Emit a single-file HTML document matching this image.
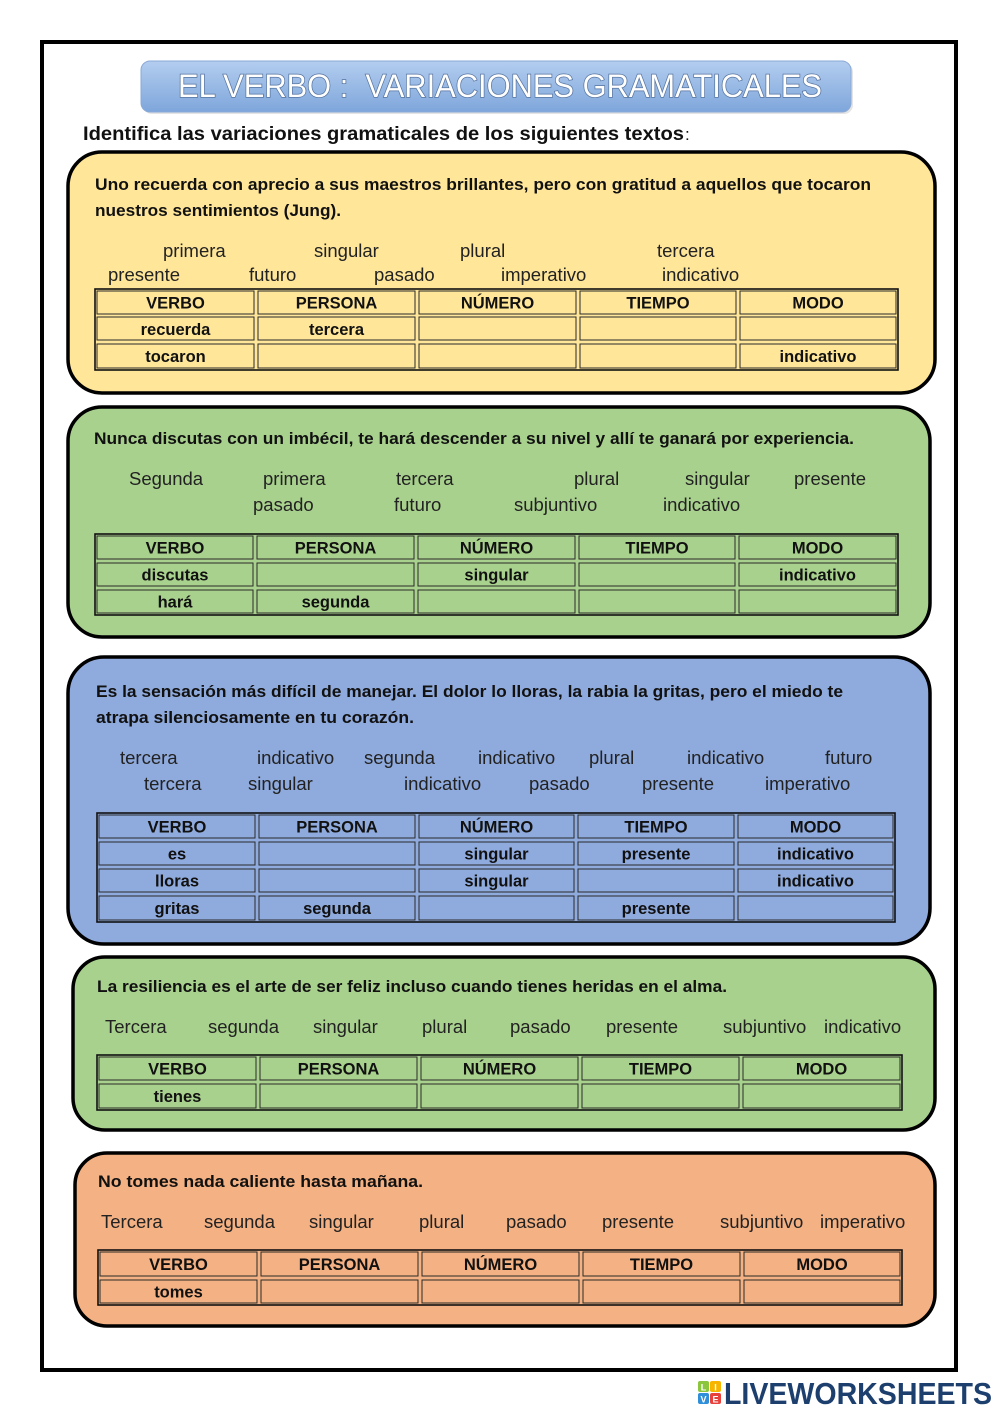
<!DOCTYPE html>
<html>
<head>
<meta charset="utf-8">
<style>
html,body{margin:0;padding:0;background:#fff;}
svg{display:block;}
text{font-family:"Liberation Sans",sans-serif;}
.s{font-weight:bold;font-size:16.5px;fill:#111;}
.w{font-size:18.5px;fill:#222;}
.c{font-weight:bold;font-size:16.5px;fill:#111;text-anchor:middle;}
.cell{fill:none;stroke:#2a2a2a;stroke-width:1;}
.tbl{fill:none;stroke:#111;stroke-width:1.6;}
.box{stroke:#000;stroke-width:3.5;}
</style>
</head>
<body>
<svg width="1000" height="1413" viewBox="0 0 1000 1413" xmlns="http://www.w3.org/2000/svg">
<defs>
<linearGradient id="tg" x1="0" y1="0" x2="0" y2="1">
<stop offset="0" stop-color="#b3cdef"/>
<stop offset="1" stop-color="#7ea6db"/>
</linearGradient>
</defs>
<rect x="0" y="0" width="1000" height="1413" fill="#fff"/>
<!-- page frame -->
<rect x="42" y="42" width="914" height="1328" fill="none" stroke="#000" stroke-width="4"/>

<!-- title banner -->
<rect x="143" y="63" width="710" height="51" rx="9" fill="#c9c9c9" opacity="0.5"/>
<rect x="141" y="61" width="710" height="51" rx="9" fill="url(#tg)" stroke="#8aa9d6" stroke-width="1"/>
<text x="178" y="97" font-size="32" textLength="644" lengthAdjust="spacingAndGlyphs" fill="#fff" stroke="#55739f" stroke-width="1.5" paint-order="stroke">EL VERBO :&#160; VARIACIONES GRAMATICALES</text>

<text x="83" y="140" font-size="19" font-weight="bold" fill="#111" textLength="601" lengthAdjust="spacingAndGlyphs">Identifica las variaciones gramaticales de los siguientes textos</text>
<text x="685" y="140" font-size="17" fill="#111">:</text>

<!-- BOX 1 -->
<rect class="box" x="68" y="152" width="867" height="241" rx="34" fill="#ffe699"/>
<text class="s" x="95" y="190" textLength="776" lengthAdjust="spacingAndGlyphs">Uno recuerda con aprecio a sus maestros brillantes, pero con gratitud a aquellos que tocaron</text>
<text class="s" x="95" y="216" textLength="246" lengthAdjust="spacingAndGlyphs">nuestros sentimientos (Jung).</text>
<text class="w" x="163" y="257">primera</text>
<text class="w" x="314" y="257">singular</text>
<text class="w" x="460" y="257">plural</text>
<text class="w" x="657" y="257">tercera</text>
<text class="w" x="108" y="281">presente</text>
<text class="w" x="249" y="281">futuro</text>
<text class="w" x="374" y="281">pasado</text>
<text class="w" x="501" y="281">imperativo</text>
<text class="w" x="662" y="281">indicativo</text>
<g>
<rect class="tbl" x="95" y="289" width="803" height="81"/>
<rect class="cell" x="97" y="291" width="157" height="23"/><rect class="cell" x="258" y="291" width="157" height="23"/><rect class="cell" x="419" y="291" width="157" height="23"/><rect class="cell" x="580" y="291" width="156" height="23"/><rect class="cell" x="740" y="291" width="156" height="23"/>
<rect class="cell" x="97" y="317" width="157" height="23"/><rect class="cell" x="258" y="317" width="157" height="23"/><rect class="cell" x="419" y="317" width="157" height="23"/><rect class="cell" x="580" y="317" width="156" height="23"/><rect class="cell" x="740" y="317" width="156" height="23"/>
<rect class="cell" x="97" y="344" width="157" height="24"/><rect class="cell" x="258" y="344" width="157" height="24"/><rect class="cell" x="419" y="344" width="157" height="24"/><rect class="cell" x="580" y="344" width="156" height="24"/><rect class="cell" x="740" y="344" width="156" height="24"/>
</g>
<text class="c" x="175.5" y="308.5">VERBO</text><text class="c" x="336.5" y="308.5">PERSONA</text><text class="c" x="497.5" y="308.5">NÚMERO</text><text class="c" x="658" y="308.5">TIEMPO</text><text class="c" x="818" y="308.5">MODO</text>
<text class="c" x="175.5" y="335">recuerda</text><text class="c" x="336.5" y="335">tercera</text>
<text class="c" x="175.5" y="362">tocaron</text><text class="c" x="818" y="362">indicativo</text>

<!-- BOX 2 -->
<rect class="box" x="68" y="407" width="862" height="230" rx="34" fill="#a9d18e"/>
<text class="s" x="94" y="444" textLength="760" lengthAdjust="spacingAndGlyphs">Nunca discutas con un imbécil, te hará descender a su nivel y allí te ganará por experiencia.</text>
<text class="w" x="129" y="485">Segunda</text>
<text class="w" x="263" y="485">primera</text>
<text class="w" x="396" y="485">tercera</text>
<text class="w" x="574" y="485">plural</text>
<text class="w" x="685" y="485">singular</text>
<text class="w" x="794" y="485">presente</text>
<text class="w" x="253" y="511">pasado</text>
<text class="w" x="394" y="511">futuro</text>
<text class="w" x="514" y="511">subjuntivo</text>
<text class="w" x="663" y="511">indicativo</text>
<g>
<rect class="tbl" x="95" y="534" width="803" height="81"/>
<rect class="cell" x="97" y="536" width="156" height="23"/><rect class="cell" x="257" y="536" width="157" height="23"/><rect class="cell" x="418" y="536" width="157" height="23"/><rect class="cell" x="579" y="536" width="156" height="23"/><rect class="cell" x="739" y="536" width="157" height="23"/>
<rect class="cell" x="97" y="563" width="156" height="23"/><rect class="cell" x="257" y="563" width="157" height="23"/><rect class="cell" x="418" y="563" width="157" height="23"/><rect class="cell" x="579" y="563" width="156" height="23"/><rect class="cell" x="739" y="563" width="157" height="23"/>
<rect class="cell" x="97" y="590" width="156" height="23"/><rect class="cell" x="257" y="590" width="157" height="23"/><rect class="cell" x="418" y="590" width="157" height="23"/><rect class="cell" x="579" y="590" width="156" height="23"/><rect class="cell" x="739" y="590" width="157" height="23"/>
</g>
<text class="c" x="175" y="553.5">VERBO</text><text class="c" x="335.5" y="553.5">PERSONA</text><text class="c" x="496.5" y="553.5">NÚMERO</text><text class="c" x="657" y="553.5">TIEMPO</text><text class="c" x="817.5" y="553.5">MODO</text>
<text class="c" x="175" y="580.5">discutas</text><text class="c" x="496.5" y="580.5">singular</text><text class="c" x="817.5" y="580.5">indicativo</text>
<text class="c" x="175" y="607.5">hará</text><text class="c" x="335.5" y="607.5">segunda</text>

<!-- BOX 3 -->
<rect class="box" x="68" y="657" width="862" height="287" rx="36" fill="#8faadc"/>
<text class="s" x="96" y="697" textLength="747" lengthAdjust="spacingAndGlyphs">Es la sensación más difícil de manejar. El dolor lo lloras, la rabia la gritas, pero el miedo te</text>
<text class="s" x="96" y="723" textLength="318" lengthAdjust="spacingAndGlyphs">atrapa silenciosamente en tu corazón.</text>
<text class="w" x="120" y="764">tercera</text>
<text class="w" x="257" y="764">indicativo</text>
<text class="w" x="364" y="764">segunda</text>
<text class="w" x="478" y="764">indicativo</text>
<text class="w" x="589" y="764">plural</text>
<text class="w" x="687" y="764">indicativo</text>
<text class="w" x="825" y="764">futuro</text>
<text class="w" x="144" y="790">tercera</text>
<text class="w" x="248" y="790">singular</text>
<text class="w" x="404" y="790">indicativo</text>
<text class="w" x="529" y="790">pasado</text>
<text class="w" x="642" y="790">presente</text>
<text class="w" x="765" y="790">imperativo</text>
<g>
<rect class="tbl" x="97" y="813" width="798" height="109"/>
<rect class="cell" x="99" y="815" width="156" height="23"/><rect class="cell" x="259" y="815" width="156" height="23"/><rect class="cell" x="419" y="815" width="155" height="23"/><rect class="cell" x="578" y="815" width="156" height="23"/><rect class="cell" x="738" y="815" width="155" height="23"/>
<rect class="cell" x="99" y="842" width="156" height="23"/><rect class="cell" x="259" y="842" width="156" height="23"/><rect class="cell" x="419" y="842" width="155" height="23"/><rect class="cell" x="578" y="842" width="156" height="23"/><rect class="cell" x="738" y="842" width="155" height="23"/>
<rect class="cell" x="99" y="869" width="156" height="23"/><rect class="cell" x="259" y="869" width="156" height="23"/><rect class="cell" x="419" y="869" width="155" height="23"/><rect class="cell" x="578" y="869" width="156" height="23"/><rect class="cell" x="738" y="869" width="155" height="23"/>
<rect class="cell" x="99" y="896" width="156" height="24"/><rect class="cell" x="259" y="896" width="156" height="24"/><rect class="cell" x="419" y="896" width="155" height="24"/><rect class="cell" x="578" y="896" width="156" height="24"/><rect class="cell" x="738" y="896" width="155" height="24"/>
</g>
<text class="c" x="177" y="832.5">VERBO</text><text class="c" x="337" y="832.5">PERSONA</text><text class="c" x="496.5" y="832.5">NÚMERO</text><text class="c" x="656" y="832.5">TIEMPO</text><text class="c" x="815.5" y="832.5">MODO</text>
<text class="c" x="177" y="859.5">es</text><text class="c" x="496.5" y="859.5">singular</text><text class="c" x="656" y="859.5">presente</text><text class="c" x="815.5" y="859.5">indicativo</text>
<text class="c" x="177" y="886.5">lloras</text><text class="c" x="496.5" y="886.5">singular</text><text class="c" x="815.5" y="886.5">indicativo</text>
<text class="c" x="177" y="914">gritas</text><text class="c" x="337" y="914">segunda</text><text class="c" x="656" y="914">presente</text>

<!-- BOX 4 -->
<rect class="box" x="73" y="957" width="862" height="173" rx="32" fill="#a9d18e"/>
<text class="s" x="97" y="992" textLength="630" lengthAdjust="spacingAndGlyphs">La resiliencia es el arte de ser feliz incluso cuando tienes heridas en el alma.</text>
<text class="w" x="105" y="1033">Tercera</text>
<text class="w" x="208" y="1033">segunda</text>
<text class="w" x="313" y="1033">singular</text>
<text class="w" x="422" y="1033">plural</text>
<text class="w" x="510" y="1033">pasado</text>
<text class="w" x="606" y="1033">presente</text>
<text class="w" x="723" y="1033">subjuntivo</text>
<text class="w" x="824" y="1033">indicativo</text>
<g>
<rect class="tbl" x="97" y="1055" width="805" height="55"/>
<rect class="cell" x="99" y="1057" width="157" height="23"/><rect class="cell" x="260" y="1057" width="157" height="23"/><rect class="cell" x="421" y="1057" width="157" height="23"/><rect class="cell" x="582" y="1057" width="157" height="23"/><rect class="cell" x="743" y="1057" width="157" height="23"/>
<rect class="cell" x="99" y="1084" width="157" height="24"/><rect class="cell" x="260" y="1084" width="157" height="24"/><rect class="cell" x="421" y="1084" width="157" height="24"/><rect class="cell" x="582" y="1084" width="157" height="24"/><rect class="cell" x="743" y="1084" width="157" height="24"/>
</g>
<text class="c" x="177.5" y="1074.5">VERBO</text><text class="c" x="338.5" y="1074.5">PERSONA</text><text class="c" x="499.5" y="1074.5">NÚMERO</text><text class="c" x="660.5" y="1074.5">TIEMPO</text><text class="c" x="821.5" y="1074.5">MODO</text>
<text class="c" x="177.5" y="1102">tienes</text>

<!-- BOX 5 -->
<rect class="box" x="75" y="1153" width="860" height="173" rx="32" fill="#f4b183"/>
<text class="s" x="98" y="1187" textLength="325" lengthAdjust="spacingAndGlyphs">No tomes nada caliente hasta mañana.</text>
<text class="w" x="101" y="1228">Tercera</text>
<text class="w" x="204" y="1228">segunda</text>
<text class="w" x="309" y="1228">singular</text>
<text class="w" x="419" y="1228">plural</text>
<text class="w" x="506" y="1228">pasado</text>
<text class="w" x="602" y="1228">presente</text>
<text class="w" x="720" y="1228">subjuntivo</text>
<text class="w" x="820" y="1228">imperativo</text>
<g>
<rect class="tbl" x="98" y="1250" width="804" height="55"/>
<rect class="cell" x="100" y="1252" width="157" height="24"/><rect class="cell" x="261" y="1252" width="157" height="24"/><rect class="cell" x="422" y="1252" width="157" height="24"/><rect class="cell" x="583" y="1252" width="157" height="24"/><rect class="cell" x="744" y="1252" width="156" height="24"/>
<rect class="cell" x="100" y="1280" width="157" height="23"/><rect class="cell" x="261" y="1280" width="157" height="23"/><rect class="cell" x="422" y="1280" width="157" height="23"/><rect class="cell" x="583" y="1280" width="157" height="23"/><rect class="cell" x="744" y="1280" width="156" height="23"/>
</g>
<text class="c" x="178.5" y="1270">VERBO</text><text class="c" x="339.5" y="1270">PERSONA</text><text class="c" x="500.5" y="1270">NÚMERO</text><text class="c" x="661.5" y="1270">TIEMPO</text><text class="c" x="822" y="1270">MODO</text>
<text class="c" x="178.5" y="1297.5">tomes</text>

<!-- logo -->
<rect x="698" y="1381" width="11" height="11" rx="2" fill="#8cc63f"/>
<rect x="710" y="1381" width="11" height="11" rx="2" fill="#f7b500"/>
<rect x="698" y="1393" width="11" height="11" rx="2" fill="#2f8fd8"/>
<rect x="710" y="1393" width="11" height="11" rx="2" fill="#e8413c"/>
<text x="703.5" y="1390.5" font-size="9" font-weight="bold" fill="#fff" text-anchor="middle">L</text>
<text x="715.5" y="1390.5" font-size="9" font-weight="bold" fill="#fff" text-anchor="middle">I</text>
<text x="703.5" y="1402.5" font-size="9" font-weight="bold" fill="#fff" text-anchor="middle">V</text>
<text x="715.5" y="1402.5" font-size="9" font-weight="bold" fill="#fff" text-anchor="middle">E</text>
<text x="724" y="1404" font-size="31" font-weight="bold" fill="#1d3f6e" textLength="268" lengthAdjust="spacingAndGlyphs">LIVEWORKSHEETS</text>
</svg>
</body>
</html>
